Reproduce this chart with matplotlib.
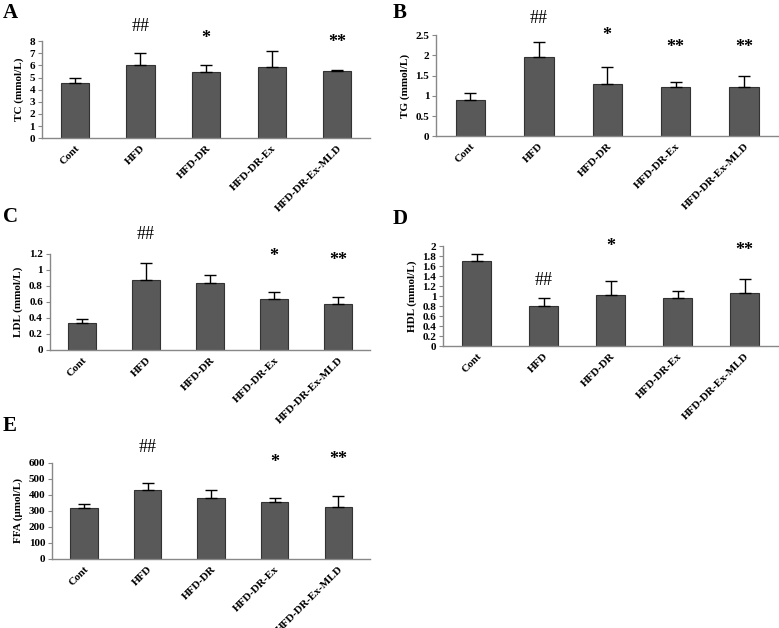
import numpy as np
import matplotlib
matplotlib.use('Agg')
import matplotlib.pyplot as plt

plt.rcParams['font.family'] = 'Liberation Serif'

groups = ['Cont', 'HFD', 'HFD-DR', 'HFD-DR-Ex', 'HFD-DR-Ex-MLD']

tc_mean = [4.55, 6.0, 5.45, 5.9, 5.55]
tc_err = [0.45, 1.05, 0.6, 1.3, 0.1]
tg_mean = [0.9, 1.97, 1.3, 1.22, 1.22]
tg_err = [0.18, 0.36, 0.42, 0.13, 0.28]
ldl_mean = [0.34, 0.87, 0.84, 0.63, 0.57]
ldl_err = [0.05, 0.21, 0.09, 0.09, 0.09]
hdl_mean = [1.7, 0.8, 1.02, 0.97, 1.07]
hdl_err = [0.15, 0.16, 0.28, 0.13, 0.28]
ffa_mean = [315, 432, 383, 355, 325]
ffa_err = [25, 40, 47, 25, 70]

# significance marks: (group index, text, y position in data units)
tc_marks = [(1, '##', 9.2), (2, '*', 8.2), (4, '**', 7.9)]
tg_marks = [(1, '##', 2.92), (2, '*', 2.5), (3, '**', 2.2), (4, '**', 2.2)]
ldl_marks = [(1, '##', 1.44), (3, '*', 1.16), (4, '**', 1.11)]
hdl_marks = [(1, '##', 1.32), (2, '*', 2.0), (4, '**', 1.92)]
ffa_marks = [(1, '##', 694), (3, '*', 600), (4, '**', 619)]

panels = [
    ('A', [0.054, 0.780, 0.421, 0.1545], tc_mean, tc_err, tc_marks, 'TC (mmol/L)', (0, 8), np.arange(0, 9, 1), (0.004, 0.996)),
    ('B', [0.560, 0.783, 0.439, 0.161], tg_mean, tg_err, tg_marks, 'TG (mmol/L)', (0, 2.5), np.arange(0, 2.6, 0.5), (0.504, 0.996)),
    ('C', [0.064, 0.443, 0.411, 0.153], ldl_mean, ldl_err, ldl_marks, 'LDL (mmol/L)', (0, 1.2), np.arange(0, 1.21, 0.2), (0.004, 0.670)),
    ('D', [0.569, 0.449, 0.430, 0.159], hdl_mean, hdl_err, hdl_marks, 'HDL (mmol/L)', (0, 2), np.arange(0, 2.01, 0.2), (0.504, 0.667)),
    ('E', [0.067, 0.110, 0.408, 0.153], ffa_mean, ffa_err, ffa_marks, 'FFA (\u03bcmol/L)', (0, 600), np.arange(0, 601, 100), (0.004, 0.337)),
]

fig = plt.figure(figsize=(7.79, 6.28), dpi=100)

for letter, rect, mean, err, marks, ylab, ylim, yticks, lpos in panels:
    ax = fig.add_axes(rect)
    x = np.arange(len(groups))
    ax.bar(x, mean, width=0.43, color='#595959', edgecolor='#333333', linewidth=0.8)
    ax.errorbar(x, mean, yerr=[np.zeros(len(err)), err], fmt='none',
                ecolor='black', elinewidth=1, capsize=4, capthick=1)
    ax.set_xlim(-0.5, 4.5)
    ax.set_ylim(*ylim)
    ax.set_yticks(yticks)
    ax.set_yticklabels(['%g' % t for t in yticks], fontsize=8, fontweight='bold')
    ax.set_xticks(x)
    ax.set_xticklabels(groups, rotation=45, ha='right', rotation_mode='anchor',
                       fontsize=8, fontweight='bold')
    ax.tick_params(axis='x', length=0, pad=4)
    ax.tick_params(axis='y', length=3, width=0.8, color='#888888', pad=2)
    for s in ['top', 'right']:
        ax.spines[s].set_visible(False)
    for s in ['left', 'bottom']:
        ax.spines[s].set_color('#888888')
        ax.spines[s].set_linewidth(1)
    ax.set_ylabel(ylab, fontsize=8, fontweight='bold', labelpad=4)
    for i, txt, yy in marks:
        if txt == '##':
            ax.text(i, yy, txt, ha='center', va='center', fontsize=13, clip_on=False)
        else:
            ax.text(i, yy, txt, ha='center', va='center', fontsize=13,
                    fontweight='bold', clip_on=False)
    fig.text(lpos[0], lpos[1], letter, fontsize=15, fontweight='bold', va='top', ha='left')

fig.savefig('out.png', dpi=100)
